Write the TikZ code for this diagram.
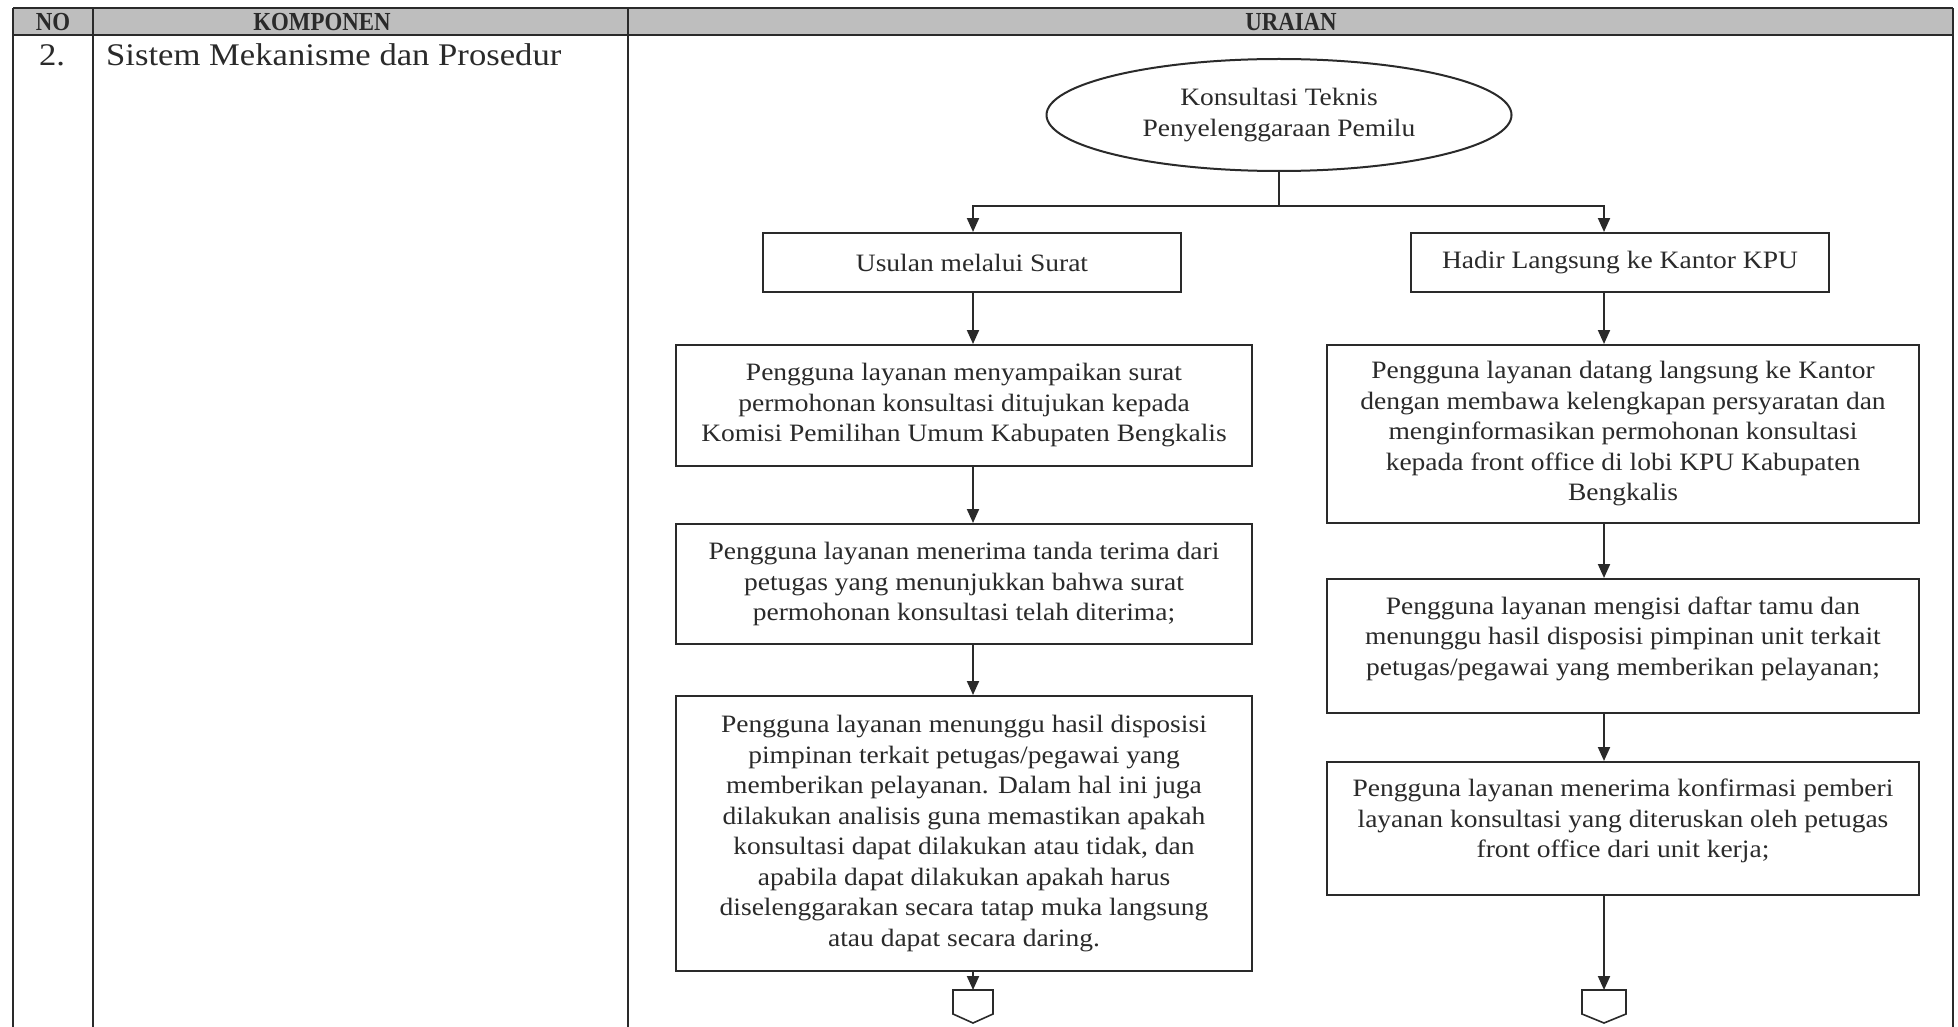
\documentclass[tikz,border=0pt]{standalone}
\usepackage{fontspec}
\setmainfont[FakeStretch=1.1]{Liberation Serif}
\newfontfamily\hdrfont[FakeStretch=0.88]{Liberation Serif}
\usetikzlibrary{shapes.geometric,arrows.meta,calc}
\definecolor{ink}{HTML}{2A2A2A}
\definecolor{hdrgray}{HTML}{BEBEBE}
\newcommand{\flowfont}{\fontsize{25}{30.5}\selectfont}
\newcommand{\tabfont}{\fontsize{31.5}{36}\selectfont}
\newcommand{\hfont}{\hdrfont\bfseries\fontsize{26}{28}\selectfont}
\begin{document}
\begin{tikzpicture}[x=1pt,y=-1pt,
  box/.style={draw=ink, line width=2pt, rectangle, align=center, text=ink, font=\flowfont, inner sep=0pt},
  arr/.style={draw=ink, line width=2pt, -{Triangle[length=14pt,width=12pt]}},
  conn/.style={draw=ink, line width=2pt},
  tline/.style={draw=ink, line width=1.6pt},
  hdr/.style={text=ink, font=\hfont, inner sep=0pt},
  offpage/.style={draw=ink, line width=1.6pt, fill=white}]
\useasboundingbox (0,0) rectangle (1958,1027);
\fill[white] (0,0) rectangle (1958,1027);
% table header
\fill[hdrgray] (13,8) rectangle (1953,35);
\draw[tline] (13,8) -- (1953,8);
\draw[tline] (13,35) -- (1953,35);
\draw[tline] (13,8) -- (13,1027);
\draw[tline] (93,8) -- (93,1027);
\draw[tline] (628,8) -- (628,1027);
\draw[tline] (1953,8) -- (1953,1027);
\node[hdr] (hno) at (53,22) {NO};
\node[hdr] (hkomp) at (322,22) {KOMPONEN};
\node[hdr] (hurai) at (1291,22) {URAIAN};
\node[text=ink, font=\tabfont, inner sep=0pt] (no2) at (52,55) {2.};
\node[text=ink, font=\tabfont, inner sep=0pt, anchor=west] (komp) at (106,55) {Sistem Mekanisme dan Prosedur};
% flowchart
\node[box, ellipse, minimum width=465pt, minimum height=112pt] (ell) at (1279,115) {Konsultasi Teknis\\Penyelenggaraan Pemilu};
\coordinate (split) at (1279,206);
\coordinate (colL) at (973,0);
\coordinate (colR) at (1604,0);
\node[box, minimum width=418pt, minimum height=59pt] (usulan) at (972,262.5) {Usulan melalui Surat};
\node[box, minimum width=418pt, minimum height=59pt] (hadir) at (1620,262.5) {Hadir Langsung ke Kantor KPU};
\node[box, minimum width=576pt, minimum height=121pt] (L1) at (964,405.5) {Pengguna layanan menyampaikan surat\\permohonan konsultasi ditujukan kepada\\Komisi Pemilihan Umum Kabupaten Bengkalis};
\node[box, minimum width=576pt, minimum height=120pt] (L2) at (964,584) {Pengguna layanan menerima tanda terima dari\\petugas yang menunjukkan bahwa surat\\permohonan konsultasi telah diterima;};
\node[box, minimum width=576pt, minimum height=275pt] (L3) at (964,833.5) {Pengguna layanan menunggu hasil disposisi\\pimpinan terkait petugas/pegawai yang\\memberikan pelayanan. Dalam hal ini juga\\dilakukan analisis guna memastikan apakah\\konsultasi dapat dilakukan atau tidak, dan\\apabila dapat dilakukan apakah harus\\diselenggarakan secara tatap muka langsung\\atau dapat secara daring.};
\node[box, minimum width=592pt, minimum height=178pt] (R1) at (1623,434) {Pengguna layanan datang langsung ke Kantor\\dengan membawa kelengkapan persyaratan dan\\menginformasikan permohonan konsultasi\\kepada front office di lobi KPU Kabupaten\\Bengkalis};
\node[box, minimum width=592pt, minimum height=134pt] (R2) at (1623,646) {Pengguna layanan mengisi daftar tamu dan\\menunggu hasil disposisi pimpinan unit terkait\\petugas/pegawai yang memberikan pelayanan;\\[-10pt]\mbox{}};
\node[box, minimum width=592pt, minimum height=133pt] (R3) at (1623,828.5) {Pengguna layanan menerima konfirmasi pemberi\\layanan konsultasi yang diteruskan oleh petugas\\front office dari unit kerja;\\[-10pt]\mbox{}};
% off-page connectors
\coordinate (offL) at (973,990);
\coordinate (offR) at (1604,990);
\draw[offpage] (offL) ++(-20,0) -- ++(40,0) -- ++(0,24) -- ++(-20,9) -- ++(-20,-9) -- cycle;
\draw[offpage] (offR) ++(-22,0) -- ++(44,0) -- ++(0,24) -- ++(-22,9) -- ++(-22,-9) -- cycle;
% connectors
\draw[conn] (ell.south) -- (split);
\draw[arr] (split) -| (colL |- usulan.north);
\draw[arr] (split) -| (colR |- hadir.north);
\draw[arr] (colL |- usulan.south) -- (colL |- L1.north);
\draw[arr] (colL |- L1.south) -- (colL |- L2.north);
\draw[arr] (colL |- L2.south) -- (colL |- L3.north);
\draw[arr] (offL |- L3.south) -- (offL);
\draw[arr] (colR |- hadir.south) -- (colR |- R1.north);
\draw[arr] (colR |- R1.south) -- (colR |- R2.north);
\draw[arr] (colR |- R2.south) -- (colR |- R3.north);
\draw[arr] (offR |- R3.south) -- (offR);
\end{tikzpicture}
\end{document}
